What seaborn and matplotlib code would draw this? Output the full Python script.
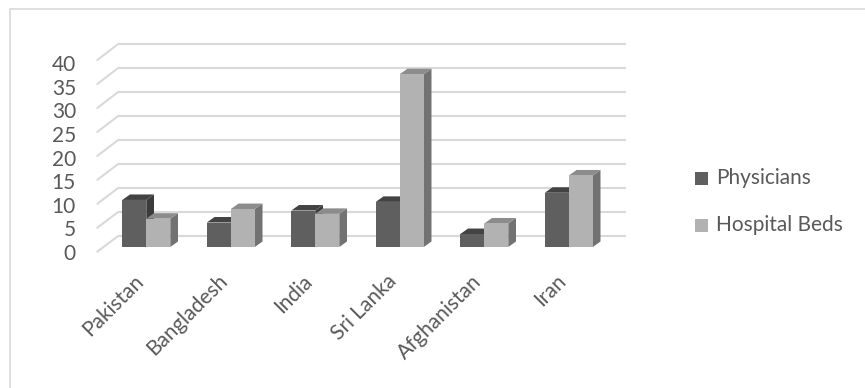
import matplotlib
matplotlib.use("Agg")
import matplotlib.pyplot as plt
import matplotlib.transforms as mtrans
import seaborn as sns
import pandas as pd
from matplotlib.patches import Polygon, Rectangle
from matplotlib.lines import Line2D

# ---------------- data ----------------
countries = ["Pakistan", "Bangladesh", "India", "Sri Lanka", "Afghanistan", "Iran"]
physicians = [9.8, 5.1, 7.6, 9.4, 2.7, 11.3]
hospital_beds = [5.9, 7.9, 6.9, 36.0, 4.9, 14.9]
series = ["Physicians", "Hospital Beds"]
y_ticks = [0, 5, 10, 15, 20, 25, 30, 35, 40]

# ---------------- style ----------------
sns.set_theme(style="white")
plt.rcParams['font.family'] = ['Lato', 'DejaVu Sans']

DARK, DARK_TOP, DARK_SIDE = "#5f5f5f", "#434343", "#3b3b3b"
LIGHT, LIGHT_TOP, LIGHT_SIDE = "#b2b2b2", "#8c8c8c", "#727272"
GRID = "#d9d9d9"
TXT = "#595959"
FS = 15

df = pd.DataFrame({
    "Country": countries * 2,
    "Series": [series[0]] * len(countries) + [series[1]] * len(countries),
    "Value": physicians + hospital_beds,
})

W, H = 865, 388
fig = plt.figure(figsize=(W / 100, H / 100), dpi=100)
fig.patch.set_facecolor("white")

# pixel <-> data helpers (layout only)
CX0, CDX = 146.3, 84.5     # px of first category center, px per category
Y0, SY = 247.0, 4.8        # px of value 0 (front), px per unit
def dx(px): return (px - CX0) / CDX
def dy(py): return (Y0 - py) / SY

L, R, T, B = 95, 630, 40, 262
ax = fig.add_axes([L / W, 1 - B / H, (R - L) / W, (B - T) / H])
ax.set_facecolor("none")

sns.barplot(data=df, x="Country", y="Value", hue="Series", hue_order=series,
            order=countries, palette=[DARK, LIGHT], width=0.568, gap=0,
            saturation=1, legend=False, ax=ax, zorder=3, linewidth=0,
            errorbar=None)

# 3D look: side and top faces derived from the drawn bars
ddx = 7.7 / CDX
ddy = 5.5 / SY
n = len(countries)
for k, p in enumerate(ax.patches):
    x, w, h = p.get_x(), p.get_width(), p.get_height()
    top_c = DARK_TOP if k < n else LIGHT_TOP
    side_c = DARK_SIDE if k < n else LIGHT_SIDE
    side = Polygon([(x + w, 0), (x + w, h), (x + w + ddx, h + ddy), (x + w + ddx, ddy)],
                   closed=True, facecolor=side_c, edgecolor="none", zorder=2)
    top = Polygon([(x, h), (x + w, h), (x + w + ddx, h + ddy), (x + ddx, h + ddy)],
                  closed=True, facecolor=top_c, edgecolor="none", zorder=2)
    ax.add_patch(side)
    ax.add_patch(top)

# back wall gridlines and side-wall diagonals
WDY = 10.7 / SY
for v in y_ticks:
    ax.plot([dx(117.7), dx(626)], [v + WDY, v + WDY], color=GRID, lw=1.5,
            zorder=1, solid_capstyle="butt")
    ax.plot([dx(97.3), dx(117.7)], [dy(251.7 - 4.79 * v), v + WDY], color=GRID,
            lw=1.5, zorder=1)

ax.set_xlim(dx(L), dx(R))
ax.set_ylim(dy(B), dy(T))
ax.set_xlabel("")
ax.set_ylabel("")
ax.set_yticks([dy(251.7 - 23.55 * v / 5) for v in y_ticks], [str(v) for v in y_ticks])
ax.tick_params(axis="y", length=0, pad=(L - 76) * 0.72, labelsize=FS, labelcolor=TXT)
ax.set_xticks(range(len(countries)), countries)
ax.tick_params(axis="x", length=0, pad=(274 - B) * 0.72, labelsize=FS, labelcolor=TXT)
shift = mtrans.ScaledTranslation(-0.13, 0.03, fig.dpi_scale_trans)
for lab in ax.get_xticklabels():
    lab.set_rotation(45)
    lab.set_rotation_mode("anchor")
    lab.set_ha("right")
    lab.set_va("top")
    lab.set_transform(lab.get_transform() + shift)
for s in ax.spines.values():
    s.set_visible(False)

# legend
for i, (name, col) in enumerate(zip(series, [DARK, LIGHT])):
    cy = [178, 225][i]
    fig.add_artist(Rectangle((695 / W, 1 - (cy + 6.5) / H), 13 / W, 13 / H,
                             transform=fig.transFigure, facecolor=col, edgecolor="none"))
    fig.text(716 / W, 1 - cy / H, name, ha="left", va="center", fontsize=FS, color=TXT)

# chart area border
fig.add_artist(Line2D([9.5 / W, 9.5 / W, 1.0], [0.0, 1 - 8.5 / H, 1 - 8.5 / H],
                      transform=fig.transFigure, color=GRID, lw=1.2))

fig.savefig("out.png", dpi=100, facecolor="white")
